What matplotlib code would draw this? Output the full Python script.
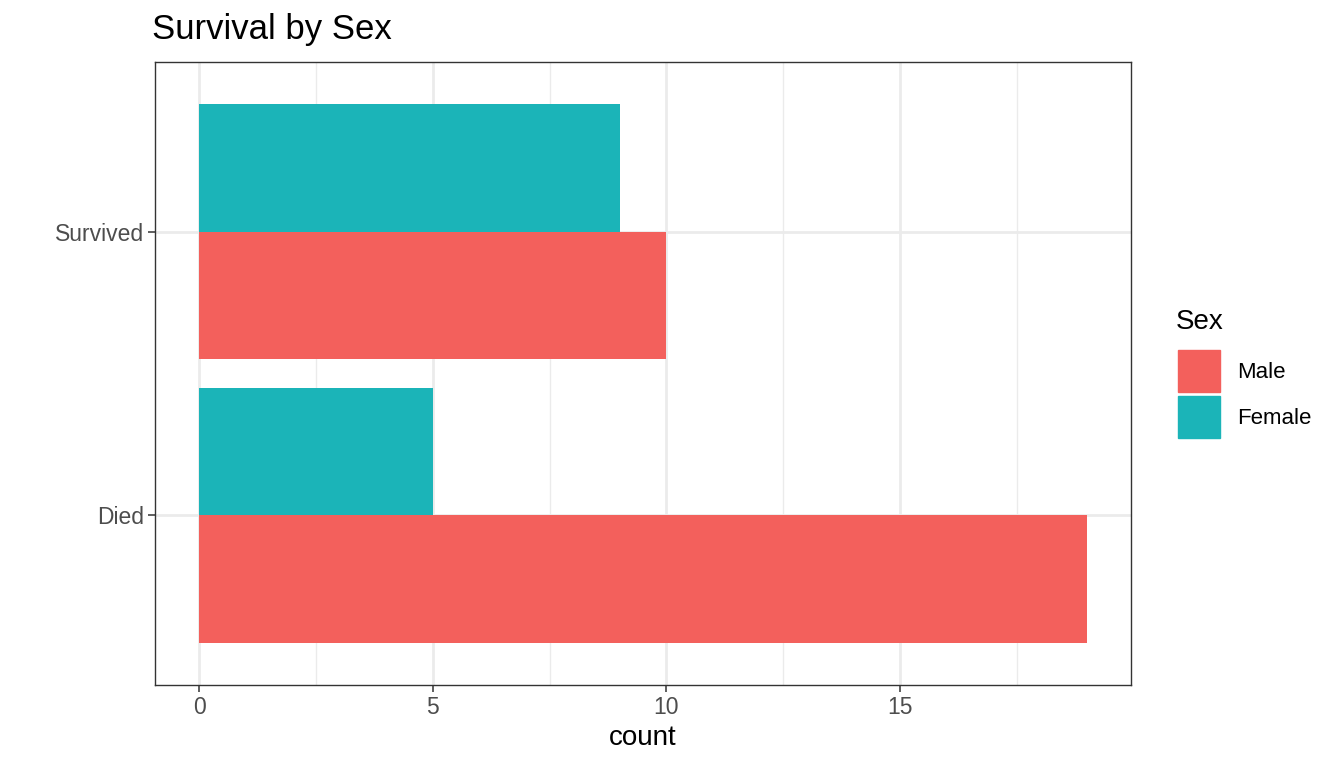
import matplotlib.pyplot as plt
import numpy as np
from matplotlib.patches import Rectangle

plt.rcParams['font.family'] = ['Liberation Sans', 'DejaVu Sans']

# Data
outcomes = ['Died', 'Survived']
sexes = ['Male', 'Female']
male_counts = [19, 10]
female_counts = [5, 9]
colors = {'Male': '#F3605C', 'Female': '#1BB4B8'}

fig = plt.figure(figsize=(13.44, 7.68), dpi=100)
ax = fig.add_axes([155 / 1344, 1 - 685 / 768, (1131 - 155) / 1344, (685 - 62) / 768])

y = np.arange(1, len(outcomes) + 1)
h = 0.45
ax.barh(y - h / 2, male_counts, height=h, color=colors['Male'], zorder=3)
ax.barh(y + h / 2, female_counts, height=h, color=colors['Female'], zorder=3)

ax.set_xlim(-0.95, 19.95)
ax.set_ylim(0.4, 2.6)

ax.set_xticks([0, 5, 10, 15])
ax.set_xticks([2.5, 7.5, 12.5, 17.5], minor=True)
ax.set_yticks(y)
ax.set_yticklabels(outcomes)

ax.grid(True, which='major', color='#EBEBEB', linewidth=2.0, zorder=0)
ax.grid(True, which='minor', axis='x', color='#EBEBEB', linewidth=1.0, zorder=0)
ax.tick_params(which='minor', length=0)
ax.tick_params(which='major', length=5, width=1.1, color='#333333',
               labelsize=16.5, labelcolor='#4D4D4D', pad=3)

for s in ax.spines.values():
    s.set_color('#333333')
    s.set_linewidth(1.0)

ax.set_xlabel('count', fontsize=20, labelpad=4)
fig.text(152 / 1344, 1 - 30 / 768, 'Survival by Sex', fontsize=25,
         ha='left', va='center')

# Legend
fig.text(1176 / 1344, 1 - 322 / 768, 'Sex', fontsize=20, ha='left', va='center')
for i, s in enumerate(sexes):
    top = 350 + i * 46
    fig.patches.append(Rectangle((1178 / 1344, 1 - (top + 42) / 768), 42 / 1344, 42 / 768,
                                 transform=fig.transFigure, color=colors[s]))
    fig.text(1237 / 1344, 1 - (top + 22) / 768, s, fontsize=16, ha='left', va='center')

fig.savefig('out.png', dpi=100)
